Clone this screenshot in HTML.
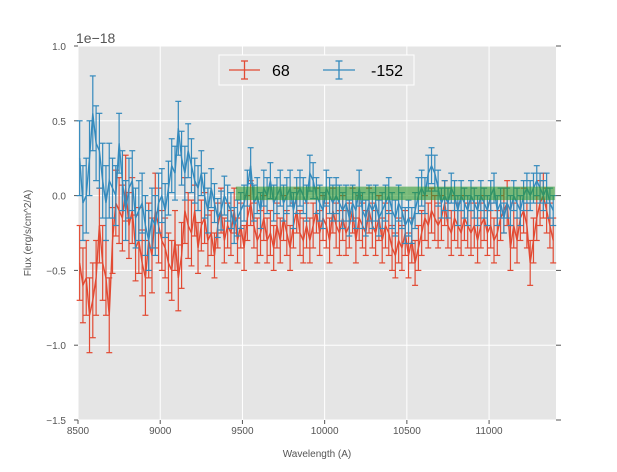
<!DOCTYPE html>
<html><head><meta charset="utf-8"><style>
body{margin:0;background:#fff;}
svg text{font-family:"Liberation Sans",sans-serif;}
</style></head><body>
<svg id="chart" width="617" height="467" viewBox="0 0 617 467">
<rect x="78" y="46" width="478" height="374" fill="#e5e5e5"/>
<g id="grid"></g><g id="ticks"></g><g id="series"></g><g id="band"></g>
<text x="76" y="43" font-size="14" fill="#555">1e−18</text>
<text x="317" y="457" font-size="10" fill="#555" text-anchor="middle">Wavelength (A)</text>
<text transform="translate(31,233) rotate(-90)" font-size="10" fill="#555" text-anchor="middle">Flux (erg/s/cm^2/A)</text>
<g>
<rect x="219" y="55" width="195" height="30" fill="#e5e5e5" stroke="#fff" stroke-width="1"/>
<g>
<line x1="229" y1="70" x2="260" y2="70" stroke="#E24A33" stroke-width="1.3"/>
<line x1="244.5" y1="61" x2="244.5" y2="79" stroke="#E24A33" stroke-width="1.3"/>
<line x1="241" y1="61" x2="248" y2="61" stroke="#E24A33" stroke-width="1.3"/>
<line x1="241" y1="79" x2="248" y2="79" stroke="#E24A33" stroke-width="1.3"/>
<text x="272" y="76" font-size="16" fill="#000">68</text></g>
<g>
<line x1="323" y1="70" x2="355" y2="70" stroke="#348ABD" stroke-width="1.3"/>
<line x1="339" y1="61" x2="339" y2="79" stroke="#348ABD" stroke-width="1.3"/>
<line x1="335.5" y1="61" x2="342.5" y2="61" stroke="#348ABD" stroke-width="1.3"/>
<line x1="335.5" y1="79" x2="342.5" y2="79" stroke="#348ABD" stroke-width="1.3"/>
<text x="371" y="76" font-size="16" fill="#000">-152</text></g>
</g>
</svg>
<script>
const xTicks=[8500,9000,9500,10000,10500,11000];
const yTicks=[-1.5,-1.0,-0.5,0.0,0.5,1.0];
const yTickLabels=["−1.5","−1.0","−0.5","0.0","0.5","1.0"];
const xStart=8510, xStep=20;
const redVals=[-0.45,-0.6,-0.55,-0.8,-0.7,-0.55,-0.2,-0.45,-0.55,-0.8,
-0.3,-0.05,-0.1,-0.15,0.05,-0.2,-0.1,-0.35,-0.3,-0.45,
-0.55,-0.3,-0.4,-0.1,-0.2,-0.3,-0.35,-0.45,-0.5,-0.3,
-0.55,-0.4,-0.1,-0.2,-0.25,-0.1,-0.35,-0.2,-0.15,-0.3,
-0.25,-0.4,-0.2,-0.1,-0.3,-0.2,-0.25,-0.1,-0.3,-0.2,
-0.35,-0.15,-0.05,-0.2,-0.3,-0.25,-0.15,-0.3,-0.25,-0.35,
-0.2,-0.3,-0.15,-0.25,-0.35,-0.2,-0.1,-0.25,-0.3,-0.2,
-0.3,-0.2,-0.1,-0.25,-0.15,-0.2,-0.3,-0.1,-0.2,-0.25,
-0.15,-0.25,-0.2,-0.1,-0.3,-0.15,-0.2,-0.25,-0.1,-0.2,
-0.25,-0.15,-0.3,-0.2,-0.25,-0.35,-0.4,-0.3,-0.35,-0.25,
-0.4,-0.3,-0.45,-0.35,-0.25,-0.15,-0.2,-0.1,-0.15,-0.2,
-0.15,-0.05,-0.2,-0.25,-0.15,-0.2,-0.25,-0.15,-0.2,-0.25,
-0.2,-0.3,-0.2,-0.15,-0.25,-0.2,-0.3,-0.25,-0.15,-0.1,
-0.05,-0.35,-0.2,-0.3,-0.15,-0.1,-0.2,-0.45,-0.3,-0.15,
-0.05,0.0,-0.1,-0.2,-0.3];
const blueVals=[0.25,-0.05,0.0,0.25,0.55,0.35,0.3,0.1,-0.05,0.1,
0.05,0.0,0.35,0.1,-0.1,0.05,0.1,-0.15,-0.1,-0.05,
-0.2,-0.3,-0.15,-0.2,-0.05,0.0,-0.1,0.05,0.2,0.15,
0.45,0.25,0.15,0.3,0.2,0.1,0.05,0.15,0.0,-0.1,
0.05,-0.05,-0.15,-0.1,0.0,-0.05,-0.1,-0.2,-0.15,-0.1,
-0.05,0.05,0.2,-0.05,0.0,-0.1,0.05,0.0,0.1,-0.05,
0.0,0.05,-0.05,0.0,0.05,-0.1,0.0,0.05,0.0,-0.05,
0.15,0.1,0.0,-0.05,-0.1,0.05,0.0,-0.05,0.0,-0.05,
-0.1,-0.05,-0.15,-0.05,-0.1,0.05,-0.1,-0.15,-0.05,-0.1,
-0.05,-0.15,-0.1,-0.05,0.0,-0.1,-0.15,-0.05,-0.1,-0.2,
-0.15,-0.2,-0.1,0.0,0.05,0.0,0.15,0.2,0.15,0.05,
-0.05,0.0,-0.05,0.05,0.0,-0.1,0.0,-0.05,-0.1,0.0,
-0.05,-0.1,0.0,-0.05,-0.1,0.0,0.05,-0.1,-0.05,-0.15,
-0.05,-0.1,0.0,-0.05,-0.1,0.0,0.05,0.0,0.05,0.1,
0.05,0.0,0.05,-0.05,-0.1];
const redErrBlocks=[0.25,0.25,0.22,0.22,0.25,0.2,0.22,0.17,0.15,0.15,0.15,0.15,0.15,0.15,0.15,0.15,0.15,0.15,0.15,0.15,0.15,0.15,0.15,0.15,0.15,0.15,0.15,0.15,0.15];
const blueErrBlocks=[0.25,0.25,0.2,0.2,0.2,0.18,0.18,0.15,0.13,0.12,0.12,0.12,0.12,0.12,0.12,0.12,0.12,0.12,0.12,0.12,0.12,0.12,0.1,0.1,0.1,0.1,0.1,0.1,0.1];
const bandRange=[9460,11400];
const bandVals=[-0.03,0.06];

const X0=78,X1=556,Y0=46,Y1=420;
const xs=v=>X0+(v-8500)*(X1-X0)/(11407-8500);
const ys=v=>Y1-(v+1.5)*(Y1-Y0)/2.5;
const NS="http://www.w3.org/2000/svg";
function mk(tag,attrs,parent){const e=document.createElementNS(NS,tag);for(const k in attrs)e.setAttribute(k,attrs[k]);parent.appendChild(e);return e;}
const grid=document.getElementById('grid'),ticks=document.getElementById('ticks');
xTicks.forEach(t=>{const x=xs(t);
 const g=mk('line',{x1:x,x2:x,y1:Y0,y2:Y1,stroke:'#fff','stroke-width':1},grid);
 
 
 mk('line',{x1:x,x2:x,y1:Y1,y2:Y1+4,stroke:'#555','stroke-width':1},ticks);
 const l=mk('text',{x:x,y:Y1+14,'font-size':10,fill:'#555','text-anchor':'middle'},ticks);
 l.textContent=t;
 
 
});
yTicks.forEach((t,i)=>{const y=ys(t);
 const g=mk('line',{x1:X0,x2:X1,y1:y,y2:y,stroke:'#fff','stroke-width':1},grid);
 
 
 mk('line',{x1:X1,x2:X1+5,y1:y,y2:y,stroke:'#555','stroke-width':1},ticks);
 mk('line',{x1:X0-4,x2:X0,y1:y,y2:y,stroke:'#555','stroke-width':1},ticks);
 const l=mk('text',{x:X0-12,y:y+4,'font-size':10,fill:'#555','text-anchor':'end'},ticks);
 l.textContent=yTickLabels[i];
 
 
});
const series=document.getElementById('series');
function drawSeries(vals,errs,color,name){
 const g=mk('g',{},series);
 
 
 let d='';
 vals.forEach((v,i)=>{const x=xs(xStart+i*xStep),e=errs[Math.min(errs.length-1,Math.floor(i/5))];
  const y1=ys(v-e),y2=ys(v+e);
  mk('line',{x1:x,x2:x,y1:y1,y2:y2,stroke:color,'stroke-width':1.2},g);
  mk('line',{x1:x-3,x2:x+3,y1:y1,y2:y1,stroke:color,'stroke-width':1.2},g);
  mk('line',{x1:x-3,x2:x+3,y1:y2,y2:y2,stroke:color,'stroke-width':1.2},g);
  d+=(i?'L':'M')+x.toFixed(2)+','+ys(v).toFixed(2);
 });
 const p=mk('path',{d:d,fill:'none',stroke:color,'stroke-width':1.4},g);
 
 
}
drawSeries(redVals,redErrBlocks,'#E24A33','series-68');
drawSeries(blueVals,blueErrBlocks,'#348ABD','series-neg152');
const band=document.getElementById('band');
const r=mk('rect',{x:xs(bandRange[0]),y:ys(bandVals[1]),width:xs(bandRange[1])-xs(bandRange[0]),height:ys(bandVals[0])-ys(bandVals[1]),fill:'#2e9a2e','fill-opacity':0.6},band);


</script>
</body></html>
